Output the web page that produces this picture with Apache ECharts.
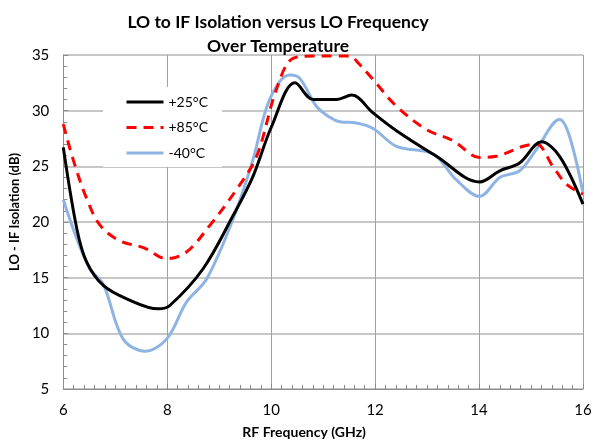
<!DOCTYPE html>
<html>
<head>
<meta charset="utf-8">
<script src="https://cdn.jsdelivr.net/npm/echarts@6/dist/echarts.min.js"></script>
<style>
html,body{margin:0;padding:0;background:#fff;}
#chart{width:599px;height:444px;}
</style>
</head>
<body>
<div id="chart"></div>
<script>
var titleText = 'LO to IF Isolation versus LO Frequency\nOver Temperature';
var xName = 'RF Frequency (GHz)';
var yName = 'LO - IF Isolation (dB)';
var seriesNames = ['+25°C', '+85°C', '-40°C'];

var freq25 = [6, 6.26, 6.45, 6.77, 7.22, 7.83, 8.05, 8.69, 9.27, 9.65, 10.01, 10.46, 10.81, 11.26, 11.55, 11.96, 12.41, 13.18, 14.01, 14.40, 14.78, 15.2, 15.55, 16];
var iso25 = [26.7, 19.4, 16.4, 14.3, 13.1, 12.2, 12.5, 15.8, 20.6, 24.1, 28.6, 32.5, 31.0, 31.0, 31.4, 29.8, 28.2, 25.9, 23.6, 24.6, 25.3, 27.2, 25.9, 21.6];

var freq85 = [6, 6.19, 6.45, 6.71, 7.09, 7.54, 7.99, 8.37, 8.82, 9.33, 9.72, 10.1, 10.42, 10.81, 11.2, 11.52, 11.67, 11.96, 12.41, 12.99, 13.5, 14.01, 14.33, 14.85, 15.1, 15.42, 15.68, 16];
var iso85 = [28.8, 25.6, 22.1, 19.7, 18.3, 17.7, 16.7, 17.3, 19.7, 22.9, 25.9, 31.9, 34.7, 34.9, 34.9, 34.9, 34.3, 32.8, 30.4, 28.3, 27.3, 25.8, 25.9, 26.8, 27.0, 25.0, 23.4, 22.5];

var freqM40 = [6, 6.26, 6.51, 6.77, 7.15, 7.57, 7.99, 8.37, 8.76, 9.27, 9.65, 9.97, 10.36, 10.55, 10.87, 11.13, 11.32, 11.64, 11.96, 12.41, 13.12, 13.56, 14.01, 14.40, 14.78, 15.1, 15.55, 15.74, 16];
var isoM40 = [22.0, 18.5, 15.8, 14.4, 9.5, 8.4, 9.5, 12.8, 14.9, 20.3, 25.6, 31.0, 33.2, 32.9, 30.4, 29.4, 29.0, 28.9, 28.4, 26.8, 26.1, 23.8, 22.3, 24.0, 24.6, 26.5, 29.2, 27.7, 22.6];

function pairs(xs, ys) { return xs.map(function (x, i) { return [x, ys[i]]; }); }

var FONT = 'Lato';
var chart = echarts.init(document.getElementById('chart'), null, {renderer: 'canvas'});
chart.setOption({
  animation: false,
  backgroundColor: '#ffffff',
  title: {
    text: titleText,
    left: 273,
    top: 5,
    textAlign: 'center',
    textStyle: {fontFamily: FONT, fontWeight: 'bold', fontSize: 17.5, lineHeight: 24, color: '#000'}
  },
  legend: {
    show: true,
    orient: 'vertical',
    left: 103,
    top: 87,
    padding: [8, 14, 7, 22],
    backgroundColor: '#ffffff',
    itemWidth: 37,
    itemHeight: 14,
    itemGap: 11.5,
    itemStyle: {color: 'rgba(0,0,0,0)', borderWidth: 0, opacity: 0},
    lineStyle: {width: 3},
    textStyle: {fontFamily: FONT, fontSize: 14, color: '#000'},
    data: seriesNames
  },
  grid: {left: 63, top: 55, right: 16, bottom: 54},
  xAxis: {
    type: 'value', min: 6, max: 16, interval: 2,
    name: xName, nameLocation: 'middle', nameGap: 36,
    nameTextStyle: {fontFamily: FONT, fontWeight: 'bold', fontSize: 14, color: '#000', padding: [0, 38, 0, 0]},
    axisLine: {lineStyle: {color: '#8c8c8c', width: 1}},
    axisTick: {show: true, inside: true, length: 5, lineStyle: {color: '#8c8c8c'}},
    minorTick: {show: true, splitNumber: 10, length: 4, lineStyle: {color: '#8c8c8c'}},
    axisLabel: {fontFamily: FONT, fontSize: 15, color: '#000', margin: 14},
    splitLine: {show: true, lineStyle: {color: '#a0a0a0', width: 1}}
  },
  yAxis: {
    type: 'value', min: 5, max: 35, interval: 5,
    name: yName, nameLocation: 'middle', nameGap: 33,
    nameTextStyle: {fontFamily: FONT, fontWeight: 'bold', fontSize: 13, color: '#000', padding: [0, 0, 0, 20]},
    axisLine: {show: true, lineStyle: {color: '#8c8c8c', width: 1}},
    axisTick: {show: true, inside: true, length: 5, lineStyle: {color: '#8c8c8c'}},
    minorTick: {show: true, splitNumber: 5, length: 4, lineStyle: {color: '#8c8c8c'}},
    axisLabel: {fontFamily: FONT, fontSize: 15, color: '#000', margin: 14},
    splitLine: {show: true, lineStyle: {color: '#b4b4b4', width: 1.5}}
  },
  series: [
    {name: seriesNames[0], type: 'line', data: pairs(freq25, iso25), smooth: 0.35, symbol: 'none',
     lineStyle: {color: '#000000', width: 3}, itemStyle: {color: '#000000'}, z: 3},
    {name: seriesNames[1], type: 'line', data: pairs(freq85, iso85), smooth: 0.35, symbol: 'none',
     lineStyle: {color: '#ff0000', width: 3, type: [10, 7]}, itemStyle: {color: '#ff0000'}, z: 2},
    {name: seriesNames[2], type: 'line', data: pairs(freqM40, isoM40), smooth: 0.35, symbol: 'none',
     lineStyle: {color: '#8eb4e3', width: 3}, itemStyle: {color: '#8eb4e3'}, z: 1}
  ]
});
</script>
</body>
</html>
